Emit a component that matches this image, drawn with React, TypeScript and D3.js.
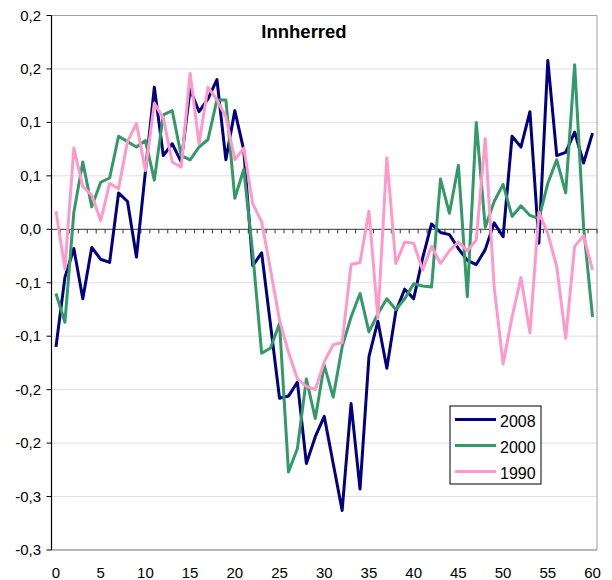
import * as d3 from "d3";

const W = 612;
const H = 580;
const PLOT = { left: 51.5, right: 597, top: 15.5, bottom: 550 };

const categories = d3.range(0, 61);

const s2008 = [
  -0.110, -0.045, -0.018, -0.065, -0.017, -0.028, -0.031, 0.034, 0.026, -0.026,
  0.054, 0.133, 0.069, 0.080, 0.063, 0.131, 0.110, 0.122, 0.140, 0.065,
  0.111, 0.074, -0.034, -0.022, -0.090, -0.158, -0.156, -0.143, -0.219, -0.194,
  -0.175, -0.219, -0.263, -0.163, -0.243, -0.119, -0.086, -0.130, -0.077, -0.056,
  -0.065, -0.027, 0.005, -0.003, -0.005, -0.018, -0.029, -0.033, -0.019, 0.006,
  -0.007, 0.087, 0.077, 0.110, -0.013, 0.158, 0.069, 0.072, 0.091, 0.062,
  0.090,
];

const s2000 = [
  -0.060, -0.087, 0.016, 0.063, 0.021, 0.044, 0.048, 0.087, 0.082, 0.077,
  0.083, 0.046, 0.107, 0.111, 0.069, 0.065, 0.077, 0.084, 0.121, 0.121,
  0.029, 0.056, -0.022, -0.116, -0.111, -0.088, -0.227, -0.205, -0.140, -0.177,
  -0.127, -0.157, -0.110, -0.082, -0.060, -0.096, -0.079, -0.065, -0.075, -0.065,
  -0.051, -0.053, -0.054, 0.047, 0.015, 0.060, -0.063, 0.100, 0.002, 0.026,
  0.042, 0.012, 0.022, 0.013, 0.010, 0.043, 0.065, 0.034, 0.154, 0.002,
  -0.082,
];

const s1990 = [
  0.017, -0.037, 0.076, 0.040, 0.032, 0.008, 0.043, 0.038, 0.082, 0.099,
  0.055, 0.118, 0.104, 0.063, 0.058, 0.146, 0.080, 0.133, 0.121, 0.105,
  0.065, 0.076, 0.024, 0.007, -0.038, -0.085, -0.115, -0.140, -0.147, -0.150,
  -0.124, -0.108, -0.106, -0.033, -0.031, 0.017, -0.083, 0.067, -0.032, -0.012,
  -0.013, -0.038, -0.016, -0.032, -0.020, -0.012, -0.020, -0.010, 0.085, -0.054,
  -0.126, -0.082, -0.045, -0.097, 0.016, -0.004, -0.035, -0.102, -0.016, -0.006,
  -0.038,
];

const seriesNames = ["2008", "2000", "1990"];
const seriesColors = ["#000080", "#339966", "#ff99cc"];

// Excel rounded the 0.05 steps to one decimal, so labels repeat
const yTicks = [-0.3, -0.25, -0.2, -0.15, -0.1, -0.05, 0, 0.05, 0.1, 0.15, 0.2];
const yTickLabels = ["-0,3", "-0,3", "-0,2", "-0,2", "-0,1", "-0,1", "0,0", "0,1", "0,1", "0,2", "0,2"];
const xTickLabels = [0, 5, 10, 15, 20, 25, 30, 35, 40, 45, 50, 55, 60];

const FONT = "'Liberation Sans', Arial, Helvetica, sans-serif";

export default function App() {
  const series = [s2008, s2000, s1990];

  const xScale = d3
    .scalePoint<number>()
    .domain(categories)
    .range([PLOT.left, PLOT.right])
    .padding(0.5);
  const step = xScale.step();

  const yScale = d3.scaleLinear().domain([-0.3, 0.2]).range([PLOT.bottom, PLOT.top]);

  const line = d3
    .line<number>()
    .x((_, i) => xScale(categories[i]) as number)
    .y((d) => yScale(d));

  const y0 = yScale(0);
  const boundaries = categories.map((c) => (xScale(c) as number) - step / 2);
  boundaries.push(PLOT.right);

  const legend = { x: 450, y: 406, w: 91, h: 78 };

  return (
    <svg
      width={W}
      height={H}
      style={{ position: "absolute", left: 0, top: 0, background: "#fff" }}
      fontFamily={FONT}
    >
      {/* grid */}
      {yTicks.map((t) =>
        t === 0 || t === 0.2 || t === -0.3 ? null : (
          <line
            key={t}
            x1={PLOT.left}
            x2={PLOT.right}
            y1={yScale(t)}
            y2={yScale(t)}
            stroke="#dcdcf6"
            strokeWidth={1}
          />
        )
      )}

      {/* plot border */}
      <line x1={PLOT.left} x2={PLOT.right} y1={PLOT.top} y2={PLOT.top} stroke="#a0a0a0" strokeWidth={1} />
      <line x1={PLOT.right} x2={PLOT.right} y1={PLOT.top} y2={PLOT.bottom} stroke="#a0a0a0" strokeWidth={1} />
      <line x1={PLOT.left} x2={PLOT.right} y1={PLOT.bottom} y2={PLOT.bottom} stroke="#a0a0a0" strokeWidth={1.5} />

      {/* x axis at zero */}
      <line x1={PLOT.left} x2={PLOT.right} y1={y0} y2={y0} stroke="#333" strokeWidth={1} />
      {boundaries.map((b, i) => (
        <line key={i} x1={b} x2={b} y1={y0} y2={y0 + 4} stroke="#333" strokeWidth={1} />
      ))}

      {/* y axis */}
      <line x1={PLOT.left} x2={PLOT.left} y1={PLOT.top} y2={PLOT.bottom} stroke="#000" strokeWidth={1.2} />
      {yTicks.map((t, i) => (
        <g key={t}>
          <line x1={PLOT.left - 5} x2={PLOT.left} y1={yScale(t)} y2={yScale(t)} stroke="#000" />
          <text x={41} y={yScale(t) + 5} textAnchor="end" fontSize={15} fill="#000">
            {yTickLabels[i]}
          </text>
        </g>
      ))}

      {/* x labels */}
      {xTickLabels.map((v) => (
        <text key={v} x={xScale(v)} y={578} textAnchor="middle" fontSize={15} fill="#000">
          {v}
        </text>
      ))}

      {/* series */}
      {series.map((s, k) => (
        <path
          key={seriesNames[k]}
          d={line(s) ?? ""}
          fill="none"
          stroke={seriesColors[k]}
          strokeWidth={3}
          strokeLinejoin="round"
        />
      ))}

      {/* title */}
      <text x={304} y={38} textAnchor="middle" fontSize={18.5} fontWeight="bold" fill="#000">
        Innherred
      </text>

      {/* legend */}
      <rect x={legend.x} y={legend.y} width={legend.w} height={legend.h} fill="#fff" stroke="#000" strokeWidth={1} />
      {seriesNames.map((n, k) => (
        <g key={n}>
          <line
            x1={455}
            x2={496}
            y1={419.5 + k * 26}
            y2={419.5 + k * 26}
            stroke={seriesColors[k]}
            strokeWidth={3}
          />
          <text x={500} y={426.5 + k * 26} fontSize={16} fill="#000">
            {n}
          </text>
        </g>
      ))}
    </svg>
  );
}
